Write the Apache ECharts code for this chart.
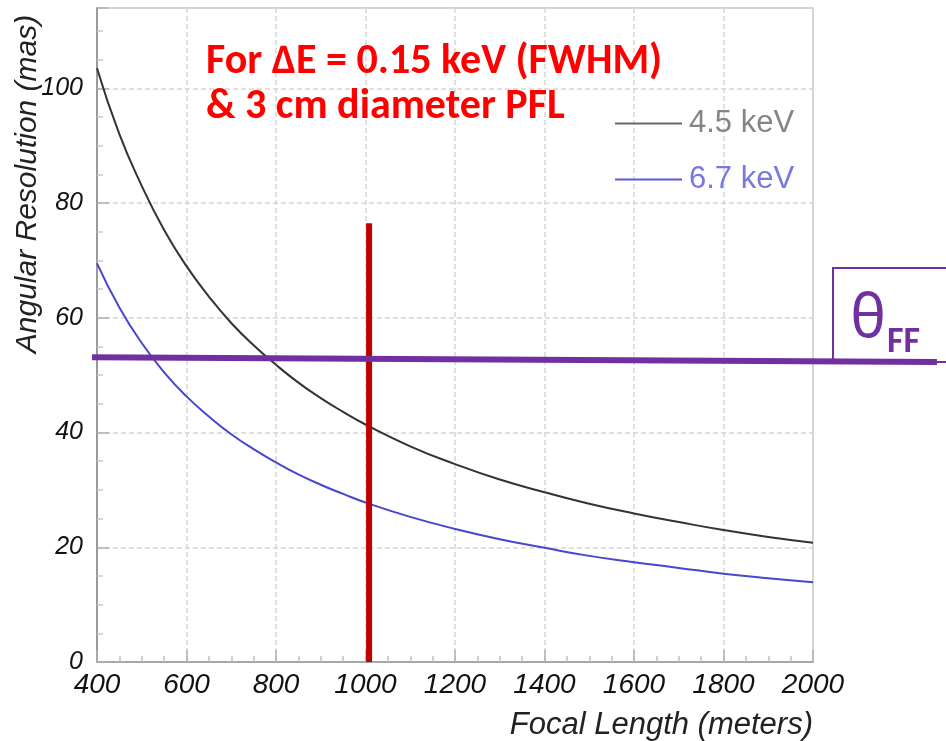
<!DOCTYPE html>
<html>
<head>
<meta charset="utf-8">
<script src="https://cdn.jsdelivr.net/npm/echarts@6/dist/echarts.min.js"></script>
<style>
html,body{margin:0;padding:0;background:#fff;}
#chart{width:946px;height:741px;}
</style>
</head>
<body>
<div id="chart"></div>
<script>
// ---- data ----
const focalLength = [400, 450, 500, 550, 600, 650, 700, 750, 800, 850, 900, 950, 1000, 1100, 1200, 1300, 1400, 1500, 1600, 1700, 1800, 1900, 2000];
const res45keV   = [103.5, 92.0, 83.0, 75.3, 69.0, 63.7, 59.1, 55.2, 51.8, 48.7, 46.0, 43.6, 41.4, 37.6, 34.5, 31.8, 29.6, 27.6, 25.9, 24.4, 23.0, 21.8, 20.8];
const res67keV   = [69.5, 61.8, 55.6, 50.5, 46.3, 42.8, 39.7, 37.1, 34.8, 32.7, 30.9, 29.3, 27.8, 25.3, 23.2, 21.4, 19.9, 18.5, 17.4, 16.4, 15.4, 14.6, 13.9];
const seriesNames = ['4.5 keV', '6.7 keV'];
const xTicks = [400, 600, 800, 1000, 1200, 1400, 1600, 1800, 2000];
const yTicks = [0, 20, 40, 60, 80, 100];
const chosenFocal = [1008, 1008];      // red vertical marker (x)
const chosenFocalY = [0, 76.5];        // its extent (y)
const thetaFFx = [388.8, 2277];        // purple θFF line (x), runs past the plot edge
const thetaFFy = [53.1, 52.3];         // purple θFF line (y)
const wideXRange = [388.8, 2277.1];    // hidden x range used for the over-running θFF line
const noteLines = ['For \u2206E = 0.15 keV (FWHM)', '& 3 cm diameter PFL'];

const pairs = (xs, ys) => xs.map((x, i) => [x, ys[i]]);

const chart = echarts.init(document.getElementById('chart'));
const labelFont = '"Liberation Sans", Arial, Helvetica, sans-serif';
const noteFont = 'Carlito, Lato, "Open Sans", sans-serif';

chart.setOption({
  animation: false,
  backgroundColor: '#ffffff',
  grid: [
    { left: 97, right: 133, top: 8, bottom: 79,
      show: true, borderColor: '#c8c8c8', borderWidth: 1.5, containLabel: false },
    { left: 92, right: 9, top: 8, bottom: 79, show: false, containLabel: false }
  ],
  legend: {
    orient: 'vertical',
    left: 610, top: 103,
    itemWidth: 67, itemHeight: 14, itemGap: 25,
    icon: 'path://M0,6 L67,6 L67,8 L0,8 Z',
    textStyle: { fontFamily: labelFont, fontSize: 31, padding: [0, 0, 0, 2] },
    data: [
      { name: seriesNames[0], textStyle: { color: '#858585' } },
      { name: seriesNames[1], textStyle: { color: '#7878e2' } }
    ]
  },
  xAxis: [{
    type: 'value', gridIndex: 0, min: xTicks[0], max: xTicks[xTicks.length - 1], interval: 200,
    axisLine: { show: true, lineStyle: { color: '#a8a8a8', width: 2 } },
    axisTick: { show: true, inside: true, length: 12, lineStyle: { color: '#b0b0b0', width: 1.5 } },
    minorTick: { show: true, splitNumber: 4, length: 6, lineStyle: { color: '#c0c0c0', width: 1.5 } },
    splitLine: { show: true, lineStyle: { color: '#d6d6d6', width: 1.5, type: [5, 3] } },
    axisLabel: {
      margin: 9, fontFamily: labelFont, fontStyle: 'italic', fontSize: 28, color: '#111111',
      formatter: v => xTicks.indexOf(v) >= 0 ? String(v) : ''
    }
  }, {
    type: 'value', gridIndex: 1, min: wideXRange[0], max: wideXRange[1], show: false
  }],
  yAxis: [{
    type: 'value', gridIndex: 0, min: 0, max: 114, interval: 20,
    axisLine: { show: true, lineStyle: { color: '#9a9a9a', width: 2 } },
    axisTick: { show: true, inside: true, length: 12, lineStyle: { color: '#b0b0b0', width: 1.5 } },
    minorTick: { show: true, splitNumber: 4, length: 6, lineStyle: { color: '#c8c8c8', width: 1.5 } },
    splitLine: { show: true, lineStyle: { color: '#d6d6d6', width: 1.5, type: [5, 3] } },
    axisLabel: {
      margin: 14, fontFamily: labelFont, fontStyle: 'italic', fontSize: 25, color: '#111111',
      formatter: v => yTicks.indexOf(v) >= 0 ? String(v) : ''
    }
  }, {
    type: 'value', gridIndex: 1, min: 0, max: 114, show: false
  }],
  series: [
    {
      name: seriesNames[0], type: 'line', smooth: true, showSymbol: false, symbol: 'none',
      data: pairs(focalLength, res45keV),
      lineStyle: { color: '#333333', width: 2 }, itemStyle: { color: '#666666' }, z: 3
    },
    {
      name: seriesNames[1], type: 'line', smooth: true, showSymbol: false, symbol: 'none',
      data: pairs(focalLength, res67keV),
      lineStyle: { color: '#4646cf', width: 2 }, itemStyle: { color: '#5a5ae0' }, z: 3
    },
    {
      name: 'chosen', type: 'line', showSymbol: false, symbol: 'none',
      data: pairs(chosenFocal, chosenFocalY),
      lineStyle: { color: '#c00000', width: 6 }, z: 4
    },
    {
      name: 'thetaFF', type: 'line', showSymbol: false, symbol: 'none', clip: false,
      xAxisIndex: 1, yAxisIndex: 1,
      data: pairs(thetaFFx, thetaFFy),
      lineStyle: { color: '#7030a0', width: 6 }, z: 5
    }
  ],
  graphic: [
    {
      type: 'text', x: 28, y: 184, rotation: Math.PI / 2, z: 100,
      style: {
        text: 'Angular Resolution (mas)', fontFamily: labelFont, fontStyle: 'italic',
        fontSize: 30, fill: '#222222', align: 'center', verticalAlign: 'middle'
      }
    },
    {
      type: 'text', x: 813, y: 725, z: 100,
      style: {
        text: 'Focal Length (meters)', fontFamily: labelFont, fontStyle: 'italic',
        fontSize: 31, fill: '#222222', align: 'right', verticalAlign: 'middle'
      }
    },
    {
      type: 'text', x: 206, y: 62, z: 100,
      style: {
        text: noteLines[0], fontFamily: noteFont, fontWeight: 'bold',
        fontSize: 42, fill: '#ff0000', align: 'left', verticalAlign: 'middle'
      }
    },
    {
      type: 'text', x: 206, y: 107, z: 100,
      style: {
        text: noteLines[1], fontFamily: noteFont, fontWeight: 'bold',
        fontSize: 42, fill: '#ff0000', align: 'left', verticalAlign: 'middle'
      }
    },
    {
      type: 'rect', shape: { x: 833, y: 268, width: 130, height: 94 }, z: 1,
      style: { fill: 'none', stroke: '#7030a0', lineWidth: 2 }
    },
    {
      type: 'text', x: 868, y: 320, z: 100,
      style: {
        text: '\u03B8', fontFamily: '"Noto Sans", "DejaVu Sans", sans-serif',
        fontSize: 60, fill: '#7030a0', align: 'center', verticalAlign: 'middle'
      }
    },
    {
      type: 'text', x: 887, y: 343, z: 100,
      style: {
        text: 'FF', fontFamily: noteFont, fontWeight: 'bold',
        fontSize: 36, fill: '#7030a0', align: 'left', verticalAlign: 'middle'
      }
    }
  ]
});
</script>
</body>
</html>
